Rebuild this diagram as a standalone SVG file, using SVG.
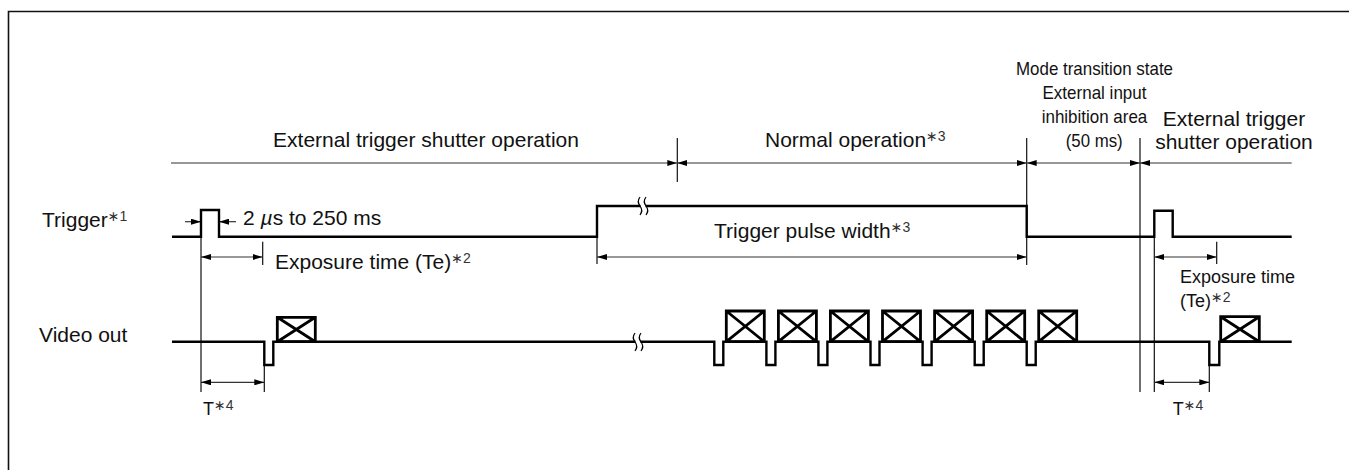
<svg xmlns="http://www.w3.org/2000/svg" width="1349" height="470" viewBox="0 0 1349 470">
<defs>
<style>
text{font-family:"Liberation Sans",Arial,sans-serif;fill:#111}
.t21{font-size:21px}
.t18{font-size:18px}
.t17{font-size:19px}
.sup{font-size:14px;fill:#333}
.ast{font-family:"DejaVu Sans",sans-serif}
.sig{fill:none;stroke:#000;stroke-width:2.4;stroke-linejoin:miter}
.thin{fill:none;stroke:#111;stroke-width:1.2}
.dim{fill:none;stroke:#333;stroke-width:1.2}
.box{fill:none;stroke:#000;stroke-width:2.8}
.brk{fill:none;stroke:#000;stroke-width:1.2}
</style>
<marker id="ah" viewBox="0 0 10 6" refX="10" refY="3" markerWidth="10" markerHeight="6" markerUnits="userSpaceOnUse" orient="auto-start-reverse">
<path d="M0,0 L10,3 L0,6 z" fill="#000"/>
</marker>
</defs>
<rect width="1349" height="470" fill="#fff"/>
<path d="M8.5,470 V11.5 H1349" fill="none" stroke="#111" stroke-width="1.6"/>

<g id="labels">
<text class="t21" x="426" y="147" text-anchor="middle">External trigger shutter operation</text>
<text class="t21" x="765" y="147">Normal operation<tspan class="sup" dy="-6"><tspan class="ast">∗</tspan>3</tspan></text>
<text class="t17" x="1016" y="75" textLength="157" lengthAdjust="spacingAndGlyphs">Mode transition state</text>
<text class="t17" x="1042.5" y="99" textLength="104" lengthAdjust="spacingAndGlyphs">External input</text>
<text class="t17" x="1041.7" y="123" textLength="105.6" lengthAdjust="spacingAndGlyphs">inhibition area</text>
<text class="t17" x="1065.7" y="147" textLength="57" lengthAdjust="spacingAndGlyphs">(50 ms)</text>
<text class="t21" x="1234" y="126" text-anchor="middle">External trigger</text>
<text class="t21" x="1234" y="149" text-anchor="middle">shutter operation</text>
<text class="t21" x="42" y="227">Trigger<tspan class="sup" dy="-6"><tspan class="ast">∗</tspan>1</tspan></text>
<text class="t21" x="39" y="342">Video out</text>
<text class="t21" x="243" y="225">2 <tspan font-style="italic">µ</tspan>s to 250 ms</text>
<text class="t21" x="275" y="269">Exposure time (Te)<tspan class="sup" dy="-6"><tspan class="ast">∗</tspan>2</tspan></text>
<text class="t21" x="714" y="238">Trigger pulse width<tspan class="sup" dy="-6"><tspan class="ast">∗</tspan>3</tspan></text>
<text class="t18" x="1180" y="283">Exposure time</text>
<text class="t18" x="1180" y="307">(Te)<tspan class="sup" dy="-5"><tspan class="ast">∗</tspan>2</tspan></text>
<text class="t18" x="203" y="415">T<tspan class="sup" dy="-5"><tspan class="ast">∗</tspan>4</tspan></text>
<text class="t18" x="1172.7" y="415">T<tspan class="sup" dy="-5"><tspan class="ast">∗</tspan>4</tspan></text>
</g>

<g id="connectors">
<path class="thin" d="M201,236.7 V392 M262.7,241.7 V265 M264.3,365 V392 M597,236.7 V264 M677.3,138 V182 M1026.7,138 V265 M1140,138 V392 M1154.3,236.7 V392 M1216.7,241.7 V264 M1209.3,365 V392"/>
<line class="dim" x1="171" y1="163" x2="677.3" y2="163" marker-end="url(#ah)"/>
<line class="dim" x1="677.3" y1="163" x2="1026.7" y2="163" marker-start="url(#ah)" marker-end="url(#ah)"/>
<line class="dim" x1="1026.7" y1="163" x2="1140" y2="163" marker-start="url(#ah)" marker-end="url(#ah)"/>
<line class="dim" x1="1140" y1="163" x2="1291.7" y2="163" marker-start="url(#ah)"/>
<line class="dim" x1="185" y1="221.7" x2="201" y2="221.7" marker-end="url(#ah)"/>
<line class="dim" x1="236" y1="221.7" x2="219" y2="221.7" marker-end="url(#ah)"/>
<line class="dim" x1="201" y1="257" x2="262.7" y2="257" marker-start="url(#ah)" marker-end="url(#ah)"/>
<line class="dim" x1="597" y1="257" x2="1026.7" y2="257" marker-start="url(#ah)" marker-end="url(#ah)"/>
<line class="dim" x1="1154.3" y1="257" x2="1216.7" y2="257" marker-start="url(#ah)" marker-end="url(#ah)"/>
<line class="dim" x1="201" y1="382.3" x2="264.3" y2="382.3" marker-start="url(#ah)" marker-end="url(#ah)"/>
<line class="dim" x1="1154.3" y1="382.3" x2="1209.3" y2="382.3" marker-start="url(#ah)" marker-end="url(#ah)"/>
</g>

<g id="trigger-signal">
<path class="sig" d="M172,236.7 H201 V210 H219 V236.7 H597 V206 H1026.7 V236.7 H1154.3 V210.7 H1172.7 V236.7 H1291.7"/>
<rect x="640.5" y="202" width="5" height="8" fill="#fff"/>
<path class="brk" d="M640,197 q-3.5,4.5 0,9 t0,9 M646,197 q-3.5,4.5 0,9 t0,9"/>
</g>

<g id="video-signal">
<path class="sig" d="M172,341.7 H264.3 V365 H273.3 V341.7 H714.3 V365 H723.3 V341.7 H766.4 V365 H775.4 V341.7 H818.4 V365 H827.4 V341.7 H870.5 V365 H879.5 V341.7 H922.6 V365 H931.6 V341.7 H974.7 V365 H983.7 V341.7 H1026.7 V365 H1035.7 V341.7 H1209.3 V365 H1219.3 V341.7 H1291.7"/>
<rect x="635.5" y="338" width="5" height="8" fill="#fff"/>
<path class="brk" d="M635,333 q-3.5,4.5 0,9 t0,9 M641,333 q-3.5,4.5 0,9 t0,9"/>
</g>

<g id="frames">
<path class="box" d="M277.3,317.3 H315.3 V341.7 H277.3 Z M277.3,317.3 L315.3,341.7 M315.3,317.3 L277.3,341.7"/>
<path class="box" d="M726.3,311 H764.3 V341.7 H726.3 Z M726.3,311 L764.3,341.7 M764.3,311 L726.3,341.7"/>
<path class="box" d="M778.4,311 H816.4 V341.7 H778.4 Z M778.4,311 L816.4,341.7 M816.4,311 L778.4,341.7"/>
<path class="box" d="M830.4,311 H868.4 V341.7 H830.4 Z M830.4,311 L868.4,341.7 M868.4,311 L830.4,341.7"/>
<path class="box" d="M882.5,311 H920.5 V341.7 H882.5 Z M882.5,311 L920.5,341.7 M920.5,311 L882.5,341.7"/>
<path class="box" d="M934.6,311 H972.6 V341.7 H934.6 Z M934.6,311 L972.6,341.7 M972.6,311 L934.6,341.7"/>
<path class="box" d="M986.7,311 H1024.7 V341.7 H986.7 Z M986.7,311 L1024.7,341.7 M1024.7,311 L986.7,341.7"/>
<path class="box" d="M1038.7,311 H1076.7 V341.7 H1038.7 Z M1038.7,311 L1076.7,341.7 M1076.7,311 L1038.7,341.7"/>
<path class="box" d="M1220.7,316.7 H1259.3 V341.7 H1220.7 Z M1220.7,316.7 L1259.3,341.7 M1259.3,316.7 L1220.7,341.7"/>
</g>
</svg>
